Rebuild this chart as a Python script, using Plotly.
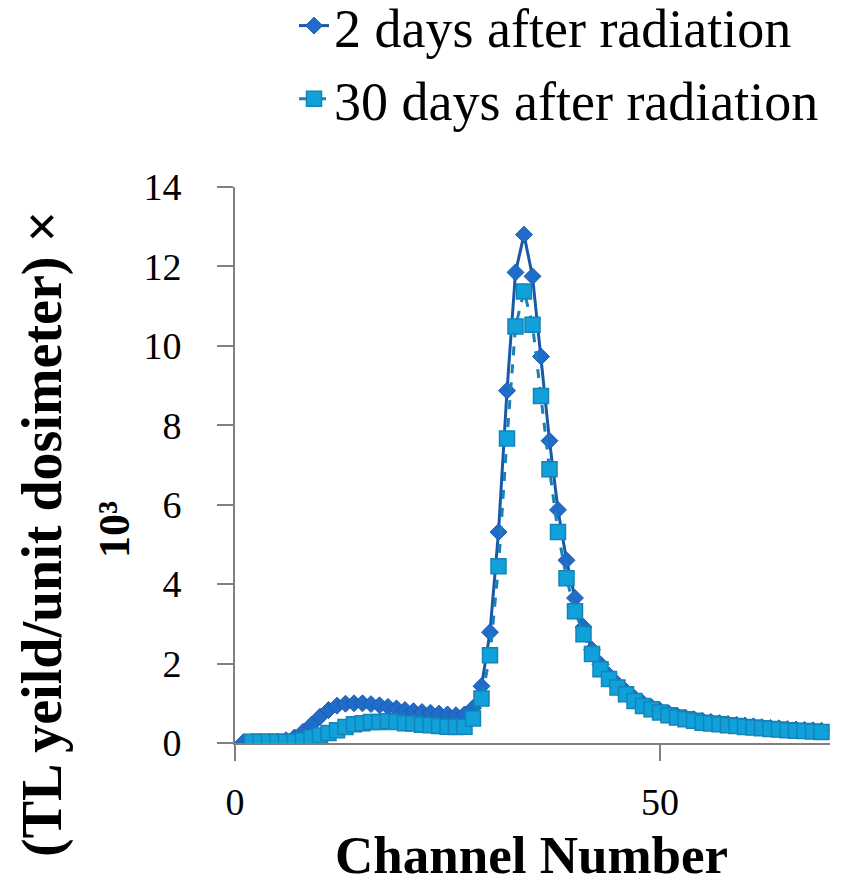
import plotly.graph_objects as go

channels_2d = list(range(1, 70))
tl_2d = [0.02, 0.03, 0.03, 0.03, 0.04, 0.07, 0.14, 0.28, 0.46, 0.66,
         0.83, 0.94, 0.99, 1.00, 1.00, 0.98, 0.95, 0.91, 0.87, 0.83,
         0.80, 0.78, 0.76, 0.74, 0.72, 0.70, 0.72, 0.88, 1.43, 2.79,
         5.31, 8.87, 11.85, 12.80, 11.75, 9.73, 7.61, 5.87, 4.60, 3.65,
         2.92, 2.35, 1.98, 1.70, 1.48, 1.30, 1.13, 1.00, 0.90, 0.82,
         0.75, 0.69, 0.64, 0.60, 0.56, 0.53, 0.50, 0.48, 0.46, 0.44,
         0.42, 0.40, 0.38, 0.37, 0.35, 0.34, 0.33, 0.32, 0.31]

channels_30d = list(range(2, 70))
tl_30d = [0.03, 0.03, 0.03, 0.03, 0.03, 0.04, 0.07, 0.14, 0.19, 0.25,
          0.32, 0.40, 0.47, 0.50, 0.53, 0.53, 0.55, 0.53, 0.50, 0.49,
          0.46, 0.45, 0.43, 0.41, 0.40, 0.41, 0.62, 1.12, 2.21, 4.45,
          7.67, 10.49, 11.37, 10.53, 8.74, 6.89, 5.31, 4.15, 3.32, 2.74,
          2.24, 1.86, 1.61, 1.40, 1.23, 1.06, 0.93, 0.85, 0.77, 0.70,
          0.64, 0.60, 0.56, 0.51, 0.49, 0.47, 0.45, 0.43, 0.40, 0.39,
          0.37, 0.35, 0.34, 0.32, 0.31, 0.30, 0.29, 0.28]

y_ticks = [0, 2, 4, 6, 8, 10, 12, 14]
x_ticks = [0, 50]

FONT = "Liberation Serif"

fig = go.Figure()
fig.add_trace(go.Scatter(
    x=channels_2d, y=tl_2d, mode="lines+markers",
    name="2 days after radiation",
    line=dict(color="#1859a8", width=3),
    marker=dict(symbol="diamond", size=13, color="#1f6ccb",
                line=dict(color="#1a5aa8", width=1)),
))
fig.add_trace(go.Scatter(
    x=channels_30d, y=tl_30d, mode="lines+markers",
    name="30 days after radiation",
    line=dict(color="#1a80b8", width=3, dash="dash"),
    marker=dict(symbol="square", size=15, color="#10a0da",
                line=dict(color="#1583b8", width=1.5)),
))

L, R, T, B = 235, 28, 187, 143
W, H = 858, 886
pw = W - L - R
ph = H - T - B

def px_x(px):
    return (px - L) / pw

def px_y(py):
    return (H - B - py) / ph

fig.update_layout(
    width=W, height=H,
    margin=dict(l=L, r=R, t=T, b=B, autoexpand=False),
    paper_bgcolor="white", plot_bgcolor="white",
    font=dict(family=FONT, color="black"),
    showlegend=True,
    legend=dict(
        x=px_x(294), y=px_y(-16), xanchor="left", yanchor="top",
        font=dict(family=FONT, size=54, color="black"),
        bgcolor="rgba(0,0,0,0)", tracegroupgap=0,
    ),
    xaxis=dict(
        range=[0, 70], tickvals=x_ticks, ticktext=[str(v) for v in x_ticks],
        showline=True, linecolor="#7f7f7f", linewidth=2,
        ticks="outside", ticklen=16, tickcolor="#7f7f7f", tickwidth=2,
        showgrid=False, zeroline=False,
        tickfont=dict(family=FONT, size=38, color="black"),
        ticklabelstandoff=8,
    ),
    yaxis=dict(
        range=[0, 14], tickvals=y_ticks, ticktext=[str(v) for v in y_ticks],
        showline=True, linecolor="#7f7f7f", linewidth=2,
        ticks="outside", ticklen=16, tickcolor="#7f7f7f", tickwidth=2,
        showgrid=False, zeroline=False,
        tickfont=dict(family=FONT, size=38, color="black"),
        ticklabelstandoff=28,
    ),
    annotations=[
        dict(text="<b>(TL yeild/unit dosimeter) ×</b>", textangle=-90,
             xref="paper", yref="paper", x=px_x(42), y=px_y(534),
             xanchor="center", yanchor="middle", showarrow=False,
             font=dict(family=FONT, size=56, color="black")),
        dict(text="<b>10³</b>", textangle=-90,
             xref="paper", yref="paper", x=px_x(114), y=px_y(530),
             xanchor="center", yanchor="middle", showarrow=False,
             font=dict(family=FONT, size=44, color="black")),
        dict(text="<b>Channel Number</b>",
             xref="paper", yref="paper", x=px_x(531), y=px_y(886),
             xanchor="center", yanchor="bottom", showarrow=False,
             font=dict(family=FONT, size=53, color="black")),
    ],
)

fig.write_html("out.html")
